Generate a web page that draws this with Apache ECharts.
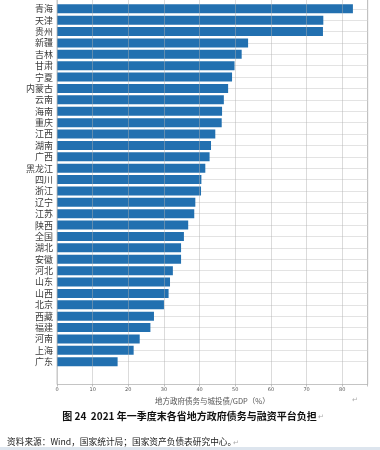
<!DOCTYPE html>
<html>
<head>
<meta charset="utf-8">
<script src="https://cdn.jsdelivr.net/npm/echarts@6/dist/echarts.min.js"></script>
<style>
html,body{margin:0;padding:0;background:#fff;}
#c{width:380px;height:450px;}
</style>
</head>
<body>
<div id="c"></div>
<script>
const provinces = ['青海','天津','贵州','新疆','吉林','甘肃','宁夏','内蒙古','云南','海南','重庆','江西','湖南','广西','黑龙江','四川','浙江','辽宁','江苏','陕西','全国','湖北','安徽','河北','山东','山西','北京','西藏','福建','河南','上海','广东'];
const debtRatio = [83.0,74.7,74.6,53.6,51.8,49.8,49.1,48.0,46.8,46.3,46.2,44.4,43.2,42.8,41.6,40.5,40.4,38.8,38.5,36.8,35.6,34.8,34.8,32.5,31.7,31.3,30.0,27.2,26.2,23.2,21.5,17.0];
const xTicks = [0,10,20,30,40,50,60,70,80];
const xAxisName = '地方政府债务与城投债/GDP（%）';
const captionText = '图 24  2021 年一季度末各省地方政府债务与融资平台负担';
const sourceText = '资料来源：Wind，国家统计局；国家资产负债表研究中心。';

const font = '"Noto Sans CJK SC", "Noto Sans", sans-serif';
// split line colours: hide lines at padded (non-category) positions
const yMin = -2, yMax = 33;
const hLineColors = [];
for (let v = yMin; v <= yMax; v++) {
  hLineColors.push(v >= 0 && v < provinces.length ? '#e3e3e3' : 'rgba(0,0,0,0)');
}

const chart = echarts.init(document.getElementById('c'), null, {renderer: 'canvas'});
chart.setOption({
  animation: false,
  backgroundColor: '#fff',
  grid: {
    left: 57, right: 12.3, top: -14, bottom: 65.5,
    outerBoundsMode: 'none', containLabel: false,
    show: true, borderColor: '#c4c4c4', borderWidth: 1, backgroundColor: 'transparent'
  },
  xAxis: {
    type: 'value', min: 0, max: 87.15, interval: 10, z: 3,
    name: xAxisName, nameLocation: 'middle', nameGap: 10,
    nameTextStyle: {fontSize: 7.5, color: '#555', fontFamily: font},
    axisLine: {show: false},
    axisTick: {show: true, length: 2, lineStyle: {color: '#999', width: 0.6}},
    axisLabel: {fontSize: 5, color: '#555', margin: 3, fontFamily: 'DejaVu Sans',
      formatter: v => xTicks.indexOf(v) >= 0 ? String(v) : ''},
    splitLine: {show: true, lineStyle: {color: 'rgba(175,175,175,0.45)', width: 1}}
  },
  yAxis: {
    type: 'category', data: provinces, inverse: true, boundaryGap: false,
    min: yMin, max: yMax,
    axisLine: {show: false},
    axisTick: {show: false},
    axisLabel: {interval: 0, fontSize: 9, color: '#3a3a3a', margin: 4, fontFamily: font},
    splitLine: {show: true, interval: 0, lineStyle: {color: hLineColors, width: 1}}
  },
  series: [{
    type: 'bar',
    data: debtRatio,
    barWidth: 9,
    itemStyle: {color: '#2270b0'},
    z: 2
  }],
  graphic: [
    {type: 'text', left: 352, top: 397, style: {text: '↵', fontSize: 7, fill: '#aaa', fontFamily: 'DejaVu Sans'}},
    {type: 'text', x: 189.5, y: 416, style: {text: captionText, fontSize: 10, fontWeight: 'bold', fill: '#111', fontFamily: font, textAlign: 'center', textVerticalAlign: 'middle'}},
    {type: 'text', x: 318, y: 417, style: {text: '↵', fontSize: 7, fill: '#aaa', fontFamily: 'DejaVu Sans', textVerticalAlign: 'middle'}},
    {type: 'text', x: 7, y: 442, style: {text: sourceText, fontSize: 8.7, fill: '#222', fontFamily: font, textVerticalAlign: 'middle'}},
    {type: 'text', x: 233, y: 443, style: {text: '↵', fontSize: 7, fill: '#aaa', fontFamily: 'DejaVu Sans', textVerticalAlign: 'middle'}},
    {type: 'rect', shape: {x: 0, y: 447, width: 380, height: 3}, style: {fill: '#dde5ee'}}
  ]
});
</script>
</body>
</html>
